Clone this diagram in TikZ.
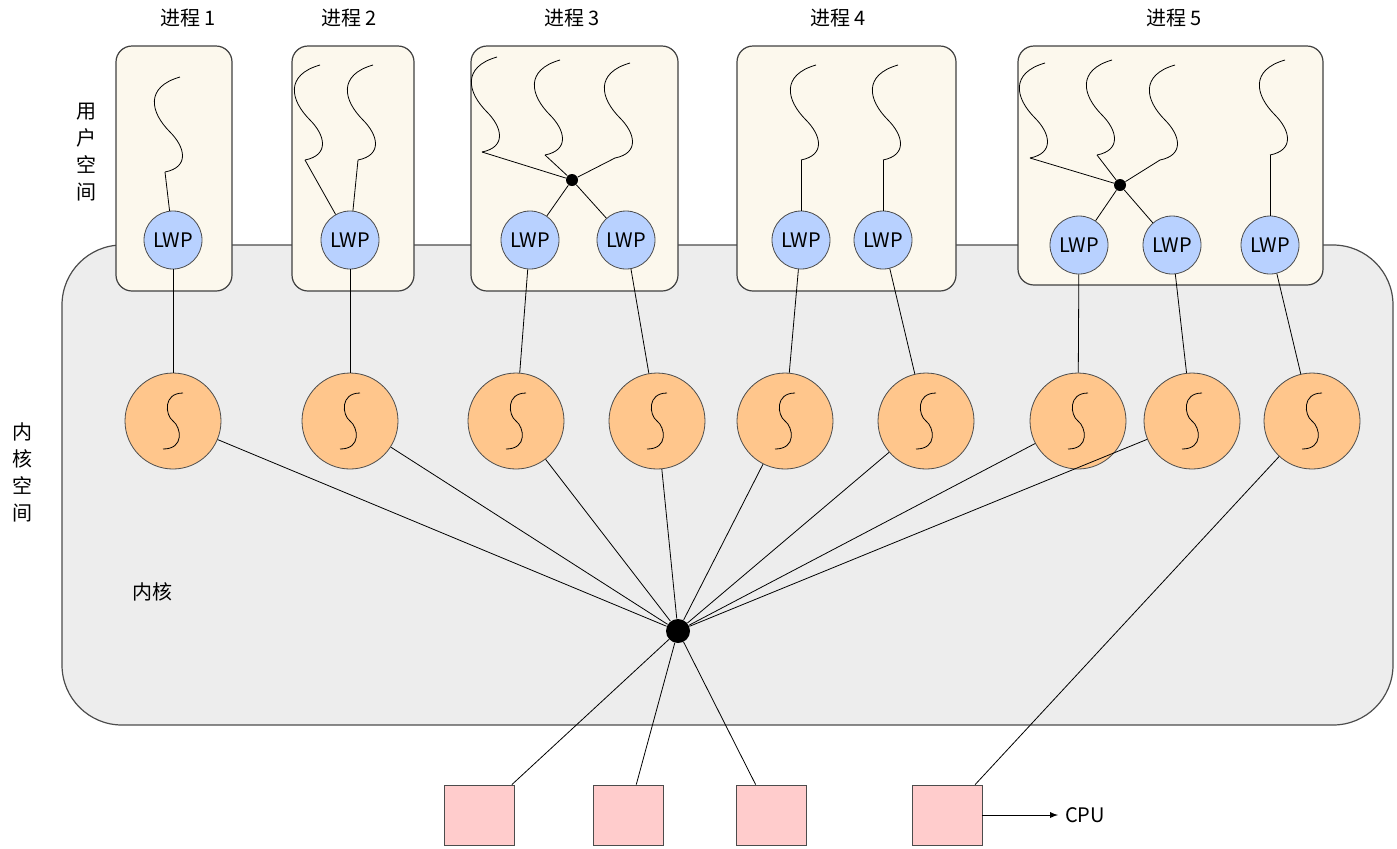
\documentclass[tikz,border=0pt]{standalone}
\usepackage{fontspec}
\setmainfont{Noto Sans CJK SC}
\begin{document}
\begin{tikzpicture}[x=0.5pt,y=-0.5pt,
  proc/.style={draw=black!75,fill=yellow!3!white!95!brown,rounded corners=8pt,line width=0.6pt},
  lwp/.style={circle,draw=black!70,fill=blue!20!white!90!cyan,minimum size=29pt,inner sep=0pt,font=\fontsize{10}{12}\selectfont},
  kt/.style={circle,draw=black!70,fill=orange!45!white,minimum size=48pt,inner sep=0pt},
  cpu/.style={draw=black!70,fill=red!20!white,minimum width=35pt,minimum height=30pt,inner sep=0pt},
  dot/.style={circle,fill=black,inner sep=0pt,minimum size=#1},
  lbl/.style={font=\fontsize{10}{12}\selectfont},
  vlbl/.style={font=\fontsize{10}{13.5}\selectfont,align=center},
  uthread/.pic={\draw (0,0) .. controls (25,-5) and (20,-25) .. (5,-40) .. controls (-15,-60) and (-20,-85) .. (15,-95);},
  kthread/.pic={\draw (-10,28) .. controls (12,28) and (8,6) .. (0,0) .. controls (-8,-6) and (-10,-28) .. (10,-28);}
]
\useasboundingbox (0,0) rectangle (1397,848);
% kernel
\draw[draw=black!70,fill=black!7,rounded corners=30pt,line width=0.6pt] (62,245) rectangle (1393,725);
% processes
\draw[proc] (116,46) rectangle (232,291);
\draw[proc] (292,46) rectangle (414,291);
\draw[proc] (471,46) rectangle (678,291);
\draw[proc] (737,46) rectangle (956,291);
\draw[proc] (1018,46) rectangle (1323,285);
% titles
\node[lbl] (t1) at (188,18) {进程 1};
\node[lbl] (t2) at (349,18) {进程 2};
\node[lbl] (t3) at (572,18) {进程 3};
\node[lbl] (t4) at (838,18) {进程 4};
\node[lbl] (t5) at (1174,18) {进程 5};
\node[vlbl] (us) at (86,152) {用\\户\\空\\间};
\node[vlbl] (ks) at (22,472) {内\\核\\空\\间};
\node[lbl] (kn) at (152,592) {内核};
% user threads
\foreach \n/\x/\y in {a/165/172,b/305/160,c/358/160,d/482/152,e/545/155,f/615/158,g/801/160,h/883/160,i/1030/158,j/1097/155,k/1160/160,l/1270/155}
  {\coordinate (u\n) at (\x,\y); \pic at (u\n) {uthread};}
\node[dot=6pt] (h3) at (572,180) {};
\node[dot=6pt] (h5) at (1120,185) {};
% LWPs
\node[lwp] (l1) at (173,240) {LWP};
\node[lwp] (l2) at (350,240) {LWP};
\node[lwp] (l3) at (530,240) {LWP};
\node[lwp] (l4) at (626,240) {LWP};
\node[lwp] (l5) at (801,240) {LWP};
\node[lwp] (l6) at (883,240) {LWP};
\node[lwp] (l7) at (1079,245) {LWP};
\node[lwp] (l8) at (1172,245) {LWP};
\node[lwp] (l9) at (1270,245) {LWP};
\draw (ua) -- (l1);
\draw (ub) -- (l2); \draw (uc) -- (l2);
\draw (ud) -- (h3); \draw (ue) -- (h3); \draw (uf) -- (h3);
\draw (h3) -- (l3); \draw (h3) -- (l4);
\draw (ug) -- (l5); \draw (uh) -- (l6);
\draw (ui) -- (h5); \draw (uj) -- (h5); \draw (uk) -- (h5);
\draw (h5) -- (l7); \draw (h5) -- (l8);
\draw (ul) -- (l9);
% kernel threads
\foreach \n/\x in {1/173,2/350,3/516,4/657,5/785,6/926,7/1078,8/1192,9/1312}
  {\node[kt] (k\n) at (\x,421) {}; \pic at (k\n) {kthread};}
\foreach \n in {1,...,9} {\draw (l\n) -- (k\n);}
% hub
\node[dot=12pt] (hub) at (678,631) {};
\foreach \n in {1,...,8} {\draw (k\n) -- (hub);}
% cpus
\node[cpu] (c1) at (479,815) {};
\node[cpu] (c2) at (628,815) {};
\node[cpu] (c3) at (771,815) {};
\node[cpu] (c4) at (947,815) {};
\draw (hub) -- (c1); \draw (hub) -- (c2); \draw (hub) -- (c3);
\draw (k9) -- (c4);
\node[lbl] (cl) at (1085,815) {CPU};
\draw[-latex] (c4) -- (cl);
\end{tikzpicture}
\end{document}
